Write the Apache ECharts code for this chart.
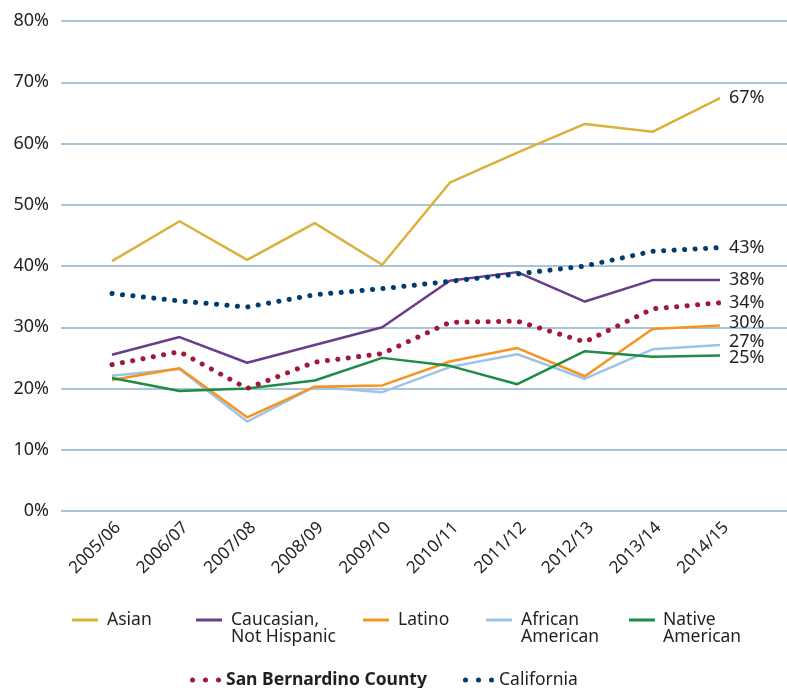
<!DOCTYPE html>
<html>
<head>
<meta charset="utf-8">
<script src="https://cdn.jsdelivr.net/npm/echarts@6/dist/echarts.min.js"></script>
<style>
html,body{margin:0;padding:0;background:#fff;}
#chart{width:787px;height:688px;}
</style>
</head>
<body>
<div id="chart"></div>
<script>
const categories = ['2005/06','2006/07','2007/08','2008/09','2009/10','2010/11','2011/12','2012/13','2013/14','2014/15'];
const yTicks = [0, 10, 20, 30, 40, 50, 60, 70, 80];
const asian = [40.8, 47.3, 41.0, 47.0, 40.2, 53.6, 58.5, 63.2, 61.9, 67.4];
const caucasian = [25.5, 28.4, 24.2, 27.1, 30.0, 37.6, 39.0, 34.2, 37.7, 37.7];
const latino = [21.4, 23.3, 15.3, 20.3, 20.5, 24.4, 26.6, 22.0, 29.7, 30.3];
const africanAmerican = [22.1, 23.2, 14.6, 20.3, 19.4, 23.5, 25.6, 21.6, 26.4, 27.1];
const nativeAmerican = [21.7, 19.6, 20.0, 21.3, 25.0, 23.7, 20.7, 26.1, 25.2, 25.4];
const sanBernardino = [23.9, 26.0, 20.0, 24.3, 25.7, 30.8, 31.0, 27.6, 33.0, 34.0];
const california = [35.5, 34.3, 33.3, 35.3, 36.3, 37.5, 38.7, 40.0, 42.4, 43.0];

const FONT = 'Noto Sans';
const TXT = '#231f20';

function endLbl(off) {
  return { show: true, distance: 9, offset: off || [0, 0], formatter: p => Math.round(p.value) + '%', fontSize: 18, color: TXT, fontFamily: FONT };
}
function solid(name, data, color, off) {
  return {
    name, type: 'line', data, xAxisIndex: 1, yAxisIndex: 1,
    symbol: 'none', silent: true,
    lineStyle: { color, width: 2.5 },
    itemStyle: { color },
    endLabel: endLbl(off)
  };
}
function dotted(name, data, color, off) {
  return {
    name, type: 'line', data, xAxisIndex: 1, yAxisIndex: 1,
    symbol: 'none', silent: true,
    lineStyle: { color, width: 5, type: [0.1, 10.4], cap: 'round' },
    itemStyle: { color },
    endLabel: endLbl(off)
  };
}

const dots = 'path://M0,2.5a2.5,2.5 0 1,0 5,0a2.5,2.5 0 1,0 -5,0Z M13,2.5a2.5,2.5 0 1,0 5,0a2.5,2.5 0 1,0 -5,0Z M26,2.5a2.5,2.5 0 1,0 5,0a2.5,2.5 0 1,0 -5,0Z';

const firstLine = {
  'Caucasian, Not Hispanic': 'Caucasian,',
  'African American': 'African',
  'Native American': 'Native'
};

function leg(name, left, top, icon, w, h, padLeft, bold) {
  return {
    show: true, left, top, padding: 0, itemWidth: w, itemHeight: h, icon,
    selectedMode: false,
    data: [{ name, textStyle: bold ? { fontWeight: 'bold' } : {} }],
    formatter: n => firstLine[n] || n,
    itemStyle: { borderWidth: 0 },
    textStyle: { fontSize: 17.5, color: TXT, fontFamily: FONT, lineHeight: 20, padding: [0, 0, 0, padLeft] }
  };
}

const chart = echarts.init(document.getElementById('chart'));
chart.setOption({
  animation: false,
  textStyle: { fontFamily: FONT },
  grid: [
    { left: 61, right: 0, top: 21, bottom: 177 },
    { left: 112, right: 67, top: 21, bottom: 177 },
    { left: 118, right: 61, top: 21, bottom: 177 }
  ],
  xAxis: [
    { gridIndex: 0, type: 'value', show: false, min: 0, max: 1 },
    { gridIndex: 1, type: 'category', data: categories, boundaryGap: false,
      axisLine: { show: false }, axisTick: { show: false }, axisLabel: { show: false } },
    { gridIndex: 2, type: 'category', data: categories, boundaryGap: false,
      axisLine: { show: false }, axisTick: { show: false },
      axisLabel: { rotate: 45, margin: 14, fontSize: 17, color: TXT, fontFamily: FONT, interval: 0 } }
  ],
  yAxis: [
    { gridIndex: 0, type: 'value', min: yTicks[0], max: yTicks[yTicks.length - 1], interval: 10,
      axisLine: { show: false }, axisTick: { show: false },
      axisLabel: { formatter: '{value}%', fontSize: 18, color: TXT, fontFamily: FONT, margin: 12 },
      splitLine: { lineStyle: { color: '#8fb0cc', width: 1.5 } } },
    { gridIndex: 1, type: 'value', min: yTicks[0], max: yTicks[yTicks.length - 1], show: false },
    { gridIndex: 2, type: 'value', min: yTicks[0], max: yTicks[yTicks.length - 1], show: false }
  ],
  legend: [
    leg('Asian', 72, 610, 'rect', 26, 3, 4),
    leg('Caucasian, Not Hispanic', 196, 610, 'rect', 26, 3, 4),
    leg('Latino', 363, 610, 'rect', 26, 3, 4),
    leg('African American', 486, 610, 'rect', 26, 3, 4),
    leg('Native American', 629, 610, 'rect', 26, 3, 3),
    leg('San Bernardino County', 190, 670, dots, 31, 5, 0, true),
    leg('California', 463, 670, dots, 31, 5, 0)
  ],
  graphic: [
    { type: 'text', left: 231, top: 628, style: { text: 'Not Hispanic', fontSize: 17.5, fill: TXT, fontFamily: FONT } },
    { type: 'text', left: 521, top: 628, style: { text: 'American', fontSize: 17.5, fill: TXT, fontFamily: FONT } },
    { type: 'text', left: 663, top: 628, style: { text: 'American', fontSize: 17.5, fill: TXT, fontFamily: FONT } }
  ],
  series: [
    solid('Asian', asian, '#dbb13b'),
    solid('Caucasian, Not Hispanic', caucasian, '#6b3c8e'),
    solid('African American', africanAmerican, '#9dc4e8', [0, -3]),
    solid('Latino', latino, '#f7941e', [0, -3]),
    solid('Native American', nativeAmerican, '#1f8c44', [0, 2]),
    dotted('San Bernardino County', sanBernardino, '#a3173a'),
    dotted('California', california, '#003d6e')
  ]
});
</script>
</body>
</html>
